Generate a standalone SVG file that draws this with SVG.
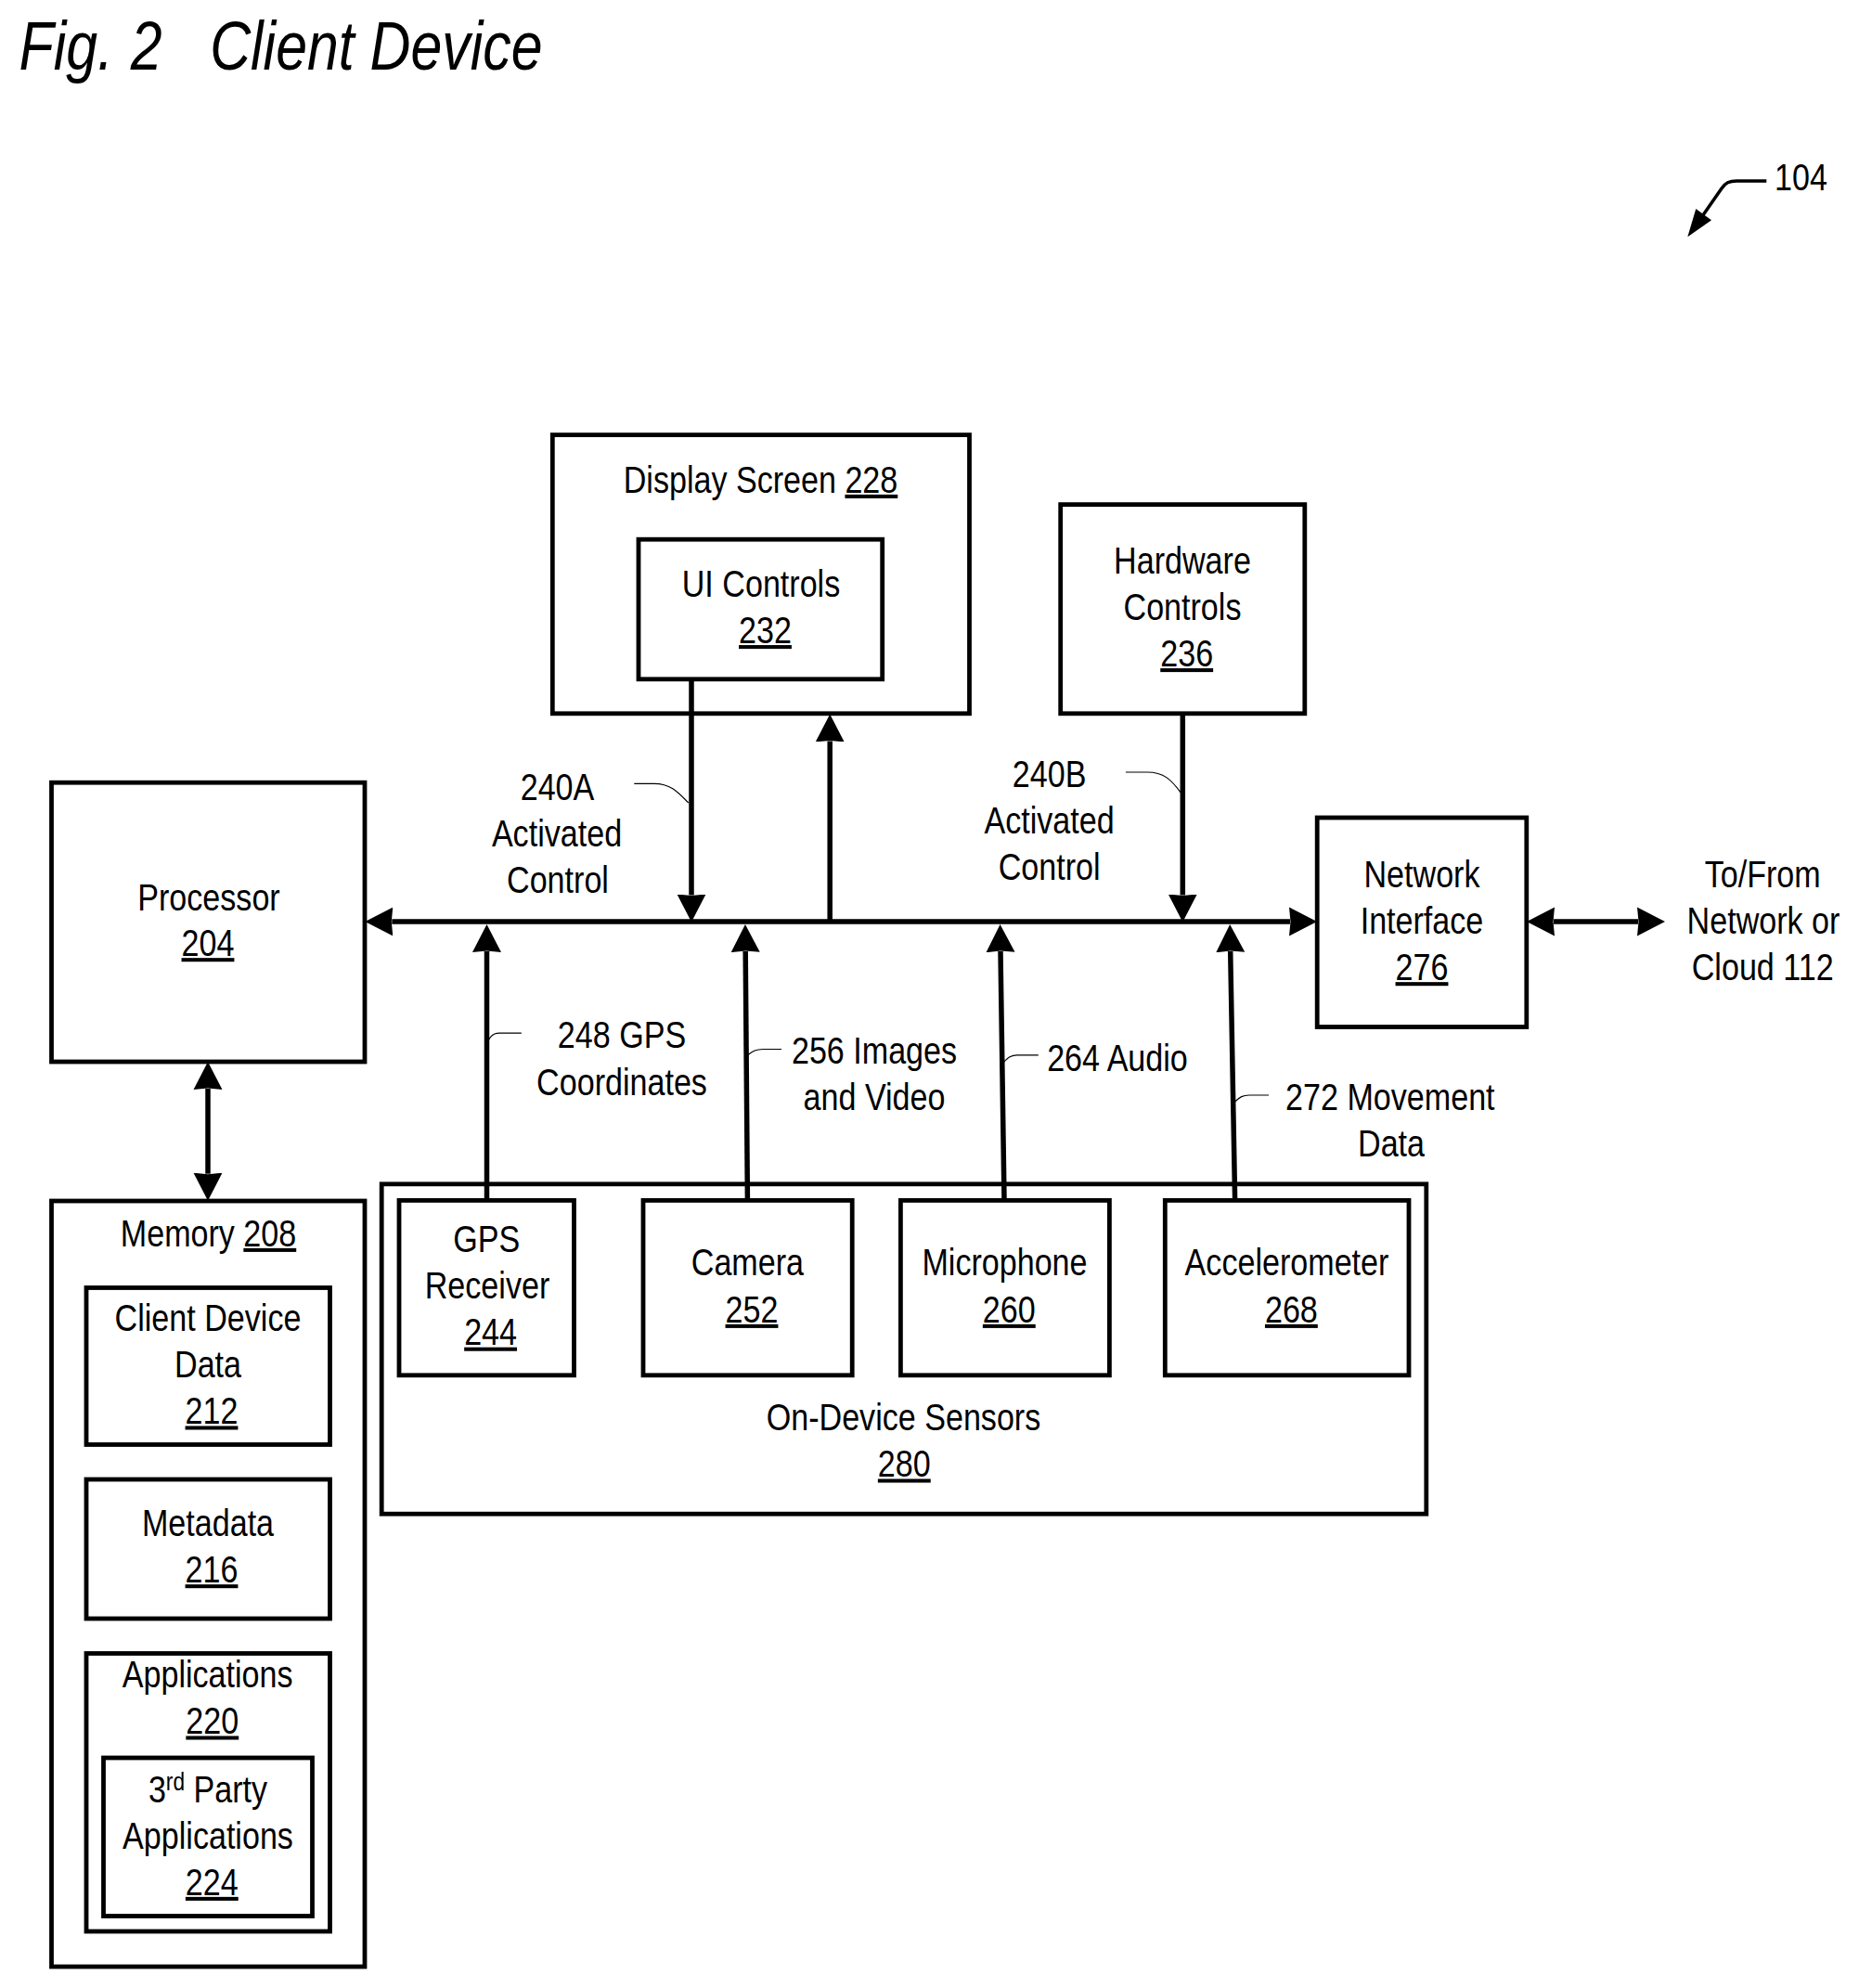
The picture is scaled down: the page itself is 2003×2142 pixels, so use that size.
<svg xmlns="http://www.w3.org/2000/svg" width="2003" height="2142" viewBox="0 0 2003 2142">
<style>
text{font-family:"Liberation Sans",Arial,sans-serif;font-size:40.5px;fill:#000;text-anchor:middle;transform-box:fill-box;transform-origin:center;transform:scaleX(.842)}
.title{font-size:74px;font-style:italic;transform:scaleX(.822)}
.u{text-decoration:underline}
.sup{font-size:27px}
rect{fill:none;stroke:#000;stroke-width:4.8}
.c{fill:none;stroke:#000;stroke-width:5.5}
.lead{fill:none;stroke:#000;stroke-width:1.2}
</style>
<defs>
<marker id="head" markerUnits="userSpaceOnUse" markerWidth="32" markerHeight="32" viewBox="0 0 32 32" refX="1" refY="16" orient="auto-start-reverse"><path d="M0 .5L30 16L0 31.500L1.500 16Z" fill="#000"/></marker>
</defs>
<rect x="0" y="0" width="2003" height="2142" style="fill:#fff;stroke:none"/>
<text class="title" x="302.500" y="75">Fig. <tspan dx="2.500">2</tspan>&#160;&#160;&#160;<tspan dx="1">Client Device</tspan></text>
<g id="connectors">
<path class="c" marker-start="url(#head)" marker-end="url(#head)" d="M422.3 993H1390"/>
<path class="c" marker-start="url(#head)" marker-end="url(#head)" d="M224 1173V1264.700"/>
<path class="c" marker-start="url(#head)" marker-end="url(#head)" d="M1674 993H1765"/>
<path class="c" marker-end="url(#head)" d="M745 734V964.500"/>
<path class="c" marker-end="url(#head)" d="M894.200 993V798.400"/>
<path class="c" marker-end="url(#head)" d="M1274.300 771V964.500"/>
<path class="c" marker-end="url(#head)" d="M524.500 1293V1025"/>
<path class="c" marker-end="url(#head)" d="M805.400 1293L803.200 1025"/>
<path class="c" marker-end="url(#head)" d="M1082 1293L1078 1025"/>
<path class="c" marker-end="url(#head)" d="M1330.600 1293L1325.700 1025"/>
<path class="lead" d="M683.300 844.300H705C722 844.300 730 853 741.700 865"/>
<path class="lead" d="M1212.900 832H1236C1254 832 1262 840 1273 855"/>
<path class="lead" d="M561.800 1113.200H538C530 1113.200 527 1118 523 1128"/>
<path class="lead" d="M842 1130.500H822C814 1130.500 811 1133 805.400 1137"/>
<path class="lead" d="M1118.800 1136.800H1096C1089 1136.800 1086 1140 1080.800 1145"/>
<path class="lead" d="M1367 1180H1346C1339 1180 1336 1182 1330.600 1187"/>
<path d="M1903.300 195H1871C1863 195 1859 197 1855 203L1835 231.700" fill="none" stroke="#000" stroke-width="3.500"/>
<path d="M1818.300 255.300L1827.300 225L1844 237.300Z" fill="#000"/>
</g>
<text x="1940.500" y="205">104</text>
<g id="processor-204"><rect x="55.500" y="843.200" width="337.500" height="300.800"/><text x="225" y="980.700">Processor</text><text class="u" x="224" y="1030">204</text></g>
<g id="memory-208"><rect x="55.500" y="1294" width="337.500" height="825"/><text x="224.500" y="1342.700">Memory <tspan class="u">208</tspan></text></g>
<g id="client-device-data-212"><rect x="93" y="1387.500" width="262.500" height="169"/><text x="224" y="1434.300">Client Device</text><text x="224" y="1484.300">Data</text><text class="u" x="228" y="1534.300">212</text></g>
<g id="metadata-216"><rect x="93" y="1594" width="262.500" height="150"/><text x="224" y="1655">Metadata</text><text class="u" x="228" y="1705">216</text></g>
<g id="applications-220"><rect x="93" y="1781.500" width="262.500" height="299.500"/><text x="223.700" y="1818.300">Applications</text><text class="u" x="228.800" y="1868.300">220</text></g>
<g id="third-party-224"><rect x="111.500" y="1894" width="225" height="170.500"/><text x="224" y="1941.700">3<tspan class="sup" dy="-13">rd</tspan><tspan dy="13"> Party</tspan></text><text x="224" y="1991.700">Applications</text><text class="u" x="228.300" y="2041.700">224</text></g>
<g id="display-screen-228"><rect x="595.300" y="468.600" width="449.200" height="300.200"/><text x="819.500" y="530.700">Display Screen <tspan class="u">228</tspan></text></g>
<g id="ui-controls-232"><rect x="688" y="581.200" width="262.700" height="150.600"/><text x="820" y="642.900">UI Controls</text><text class="u" x="824.500" y="692.900">232</text></g>
<g id="hardware-controls-236"><rect x="1142.700" y="543.600" width="263.100" height="225.200"/><text x="1274" y="617.900">Hardware</text><text x="1274" y="667.900">Controls</text><text class="u" x="1278.700" y="717.900">236</text></g>
<g id="network-interface-276"><rect x="1419.200" y="881" width="225.600" height="225.500"/><text x="1532" y="956">Network</text><text x="1532" y="1006">Interface</text><text class="u" x="1532" y="1056">276</text></g>
<g id="on-device-sensors-280"><rect x="411.200" y="1275.800" width="1125.600" height="355.400"/><text x="973.500" y="1540.800">On-Device Sensors</text><text class="u" x="974.300" y="1591.300">280</text></g>
<g id="gps-receiver-244"><rect x="430" y="1293.400" width="188.500" height="188.400"/><text x="524.300" y="1348.900">GPS</text><text x="525" y="1399">Receiver</text><text class="u" x="528.600" y="1449.500">244</text></g>
<g id="camera-252"><rect x="693" y="1293.400" width="225.200" height="188.400"/><text x="805.400" y="1374.200">Camera</text><text class="u" x="810" y="1424.700">252</text></g>
<g id="microphone-260"><rect x="970.400" y="1293.400" width="225" height="188.400"/><text x="1082.500" y="1374.200">Microphone</text><text class="u" x="1087.300" y="1424.700">260</text></g>
<g id="accelerometer-268"><rect x="1255.300" y="1293.400" width="262.700" height="188.400"/><text x="1386.500" y="1374.200">Accelerometer</text><text class="u" x="1391.400" y="1424.700">268</text></g>
<g id="labels">
<text x="600.500" y="861.700">240A</text><text x="600" y="911.700">Activated</text><text x="601" y="961.700">Control</text>
<text x="1130.600" y="848.200">240B</text><text x="1130.600" y="898.200">Activated</text><text x="1130.600" y="948.200">Control</text>
<text x="670" y="1129.200">248 GPS</text><text x="670" y="1179.700">Coordinates</text>
<text x="942" y="1146">256 Images</text><text x="942" y="1196.400">and Video</text>
<text x="1204" y="1153.600">264 Audio</text>
<text x="1497.800" y="1196.500">272 Movement</text><text x="1499" y="1246.200">Data</text>
<text x="1899.200" y="956">To/From</text><text x="1900" y="1006">Network or</text><text x="1899.200" y="1056">Cloud 112</text>
</g>
</svg>
